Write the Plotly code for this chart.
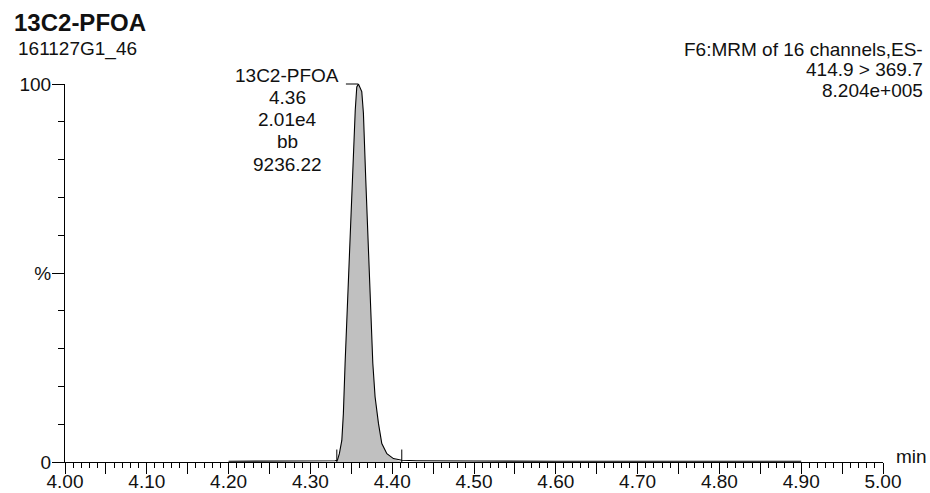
import plotly.graph_objects as go

# ---------------- data ----------------
compound = "13C2-PFOA"
sample_id = "161127G1_46"
function_info = ["F6:MRM of 16 channels,ES-", "414.9 > 369.7", "8.204e+005"]
peak_label = ["13C2-PFOA", "4.36", "2.01e4", "bb", "9236.22"]

time_min = [4.200, 4.250, 4.300, 4.320, 4.330, 4.3330, 4.3354, 4.3384, 4.3403,
            4.3424, 4.3445, 4.3470, 4.3490, 4.3510, 4.3530, 4.3548, 4.3567,
            4.3587, 4.3628, 4.3648, 4.3677, 4.3702, 4.3721, 4.3738, 4.3763,
            4.3791, 4.3832, 4.3873, 4.3935, 4.4015, 4.4118, 4.430, 4.450,
            4.500, 4.600, 4.700, 4.800, 4.900]
intensity_pct = [0.2, 0.2, 0.25, 0.3, 0.35, 0.45, 2.2, 5.7, 12.8,
                 26.0, 37.0, 52.0, 64.0, 75.0, 85.0, 93.0, 99.2,
                 100.0, 98.0, 92.3, 74.6, 61.3, 48.1, 39.4, 26.1,
                 17.2, 10.2, 4.9, 2.2, 0.9, 0.45, 0.35, 0.3,
                 0.25, 0.2, 0.2, 0.2, 0.2]
peak_start = 4.3323
peak_end = 4.4117
apex_time = 4.3587
apex_pct = 100.0

x_tickvals = [4.00, 4.05, 4.10, 4.15, 4.20, 4.25, 4.30, 4.35, 4.40, 4.45, 4.50,
              4.55, 4.60, 4.65, 4.70, 4.75, 4.80, 4.85, 4.90, 4.95, 5.00]
x_ticktext = ["4.00", "", "4.10", "", "4.20", "", "4.30", "", "4.40", "", "4.50",
              "", "4.60", "", "4.70", "", "4.80", "", "4.90", "", "5.00"]
y_tickvals = [0, 50, 100]
y_ticktext = ["0", "%", "100"]

# ---------------- layout geometry ----------------
W, H = 930, 493
L, R, T, B = 65, 47, 84, 31
PW, PH = W - L - R, H - T - B
FONT = "Liberation Sans, Arial, Helvetica, sans-serif"
INK = "#111111"
FS = 19


def px(xp):
    return (xp - L) / PW


def py(yp):
    return (H - B - yp) / PH


fig = go.Figure()

# shaded integrated area
fill_t = [t for t in time_min if peak_start <= t <= peak_end]
fill_y = [v for t, v in zip(time_min, intensity_pct) if peak_start <= t <= peak_end]
fig.add_trace(go.Scatter(x=[peak_start] + fill_t + [peak_end],
                         y=[0] + fill_y + [0],
                         mode="lines", fill="toself", fillcolor="#c0c0c0",
                         line=dict(width=0), hoverinfo="skip", showlegend=False))

# chromatogram trace
fig.add_trace(go.Scatter(x=time_min, y=intensity_pct, mode="lines",
                         line=dict(color="black", width=1.1),
                         showlegend=False))

# integration start / end markers
mk_x, mk_y = [], []
for t in (peak_start, peak_end):
    mk_x += [t, t, None]
    mk_y += [0, 3.3, None]
fig.add_trace(go.Scatter(x=mk_x, y=mk_y, mode="lines",
                         line=dict(color="black", width=1),
                         hoverinfo="skip", showlegend=False))

ann = []
# title and sample id
ann.append(dict(text="<b>" + compound + "</b>", x=px(12), y=py(22), xref="paper", yref="paper",
                xanchor="left", yanchor="middle", showarrow=False,
                font=dict(size=24, family=FONT, color=INK)))
ann.append(dict(text=sample_id, x=px(16), y=py(49), xref="paper", yref="paper",
                xanchor="left", yanchor="middle", showarrow=False,
                font=dict(size=FS, family=FONT, color=INK)))
# function info (top right)
for i, s in enumerate(function_info):
    ann.append(dict(text=s, x=px(925), y=py(49 + 20.5 * i), xref="paper", yref="paper",
                    xanchor="right", yanchor="middle", showarrow=False,
                    font=dict(size=FS, family=FONT, color=INK)))
# peak label block
for i, s in enumerate(peak_label):
    ann.append(dict(text=s, x=px(287), y=py(75 + 22.3 * i), xref="paper", yref="paper",
                    xanchor="center", yanchor="middle", showarrow=False,
                    font=dict(size=FS, family=FONT, color=INK)))
# connector from label to apex
ann.append(dict(text="", x=apex_time, y=apex_pct, xref="x", yref="y",
                showarrow=True, arrowhead=0, arrowwidth=1, arrowcolor="black",
                ax=-14, ay=0, standoff=0, startstandoff=0))
# "min" unit label
ann.append(dict(text="min", x=px(894), y=py(456), xref="paper", yref="paper",
                xanchor="left", yanchor="middle", showarrow=False,
                font=dict(size=FS, family=FONT, color=INK)))

fig.update_layout(
    width=W, height=H,
    margin=dict(l=L, r=R, t=T, b=B, pad=0, autoexpand=False),
    paper_bgcolor="white", plot_bgcolor="white",
    font=dict(family=FONT, size=FS, color=INK),
    annotations=ann,
    xaxis=dict(range=[4.0, 5.0], showgrid=False, zeroline=False, automargin=False,
               showline=True, linecolor="black", linewidth=1,
               tickmode="array", tickvals=x_tickvals, ticktext=x_ticktext,
               ticks="outside", ticklen=11, tickwidth=1, tickcolor="black",
               ticklabelstandoff=-9,
               tickfont=dict(size=FS, family=FONT, color=INK),
               minor=dict(dtick=0.01, tick0=4.0, ticks="outside", ticklen=5,
                          tickwidth=1, tickcolor="black", showgrid=False)),
    yaxis=dict(range=[0, 100], showgrid=False, zeroline=False, automargin=False,
               showline=True, linecolor="black", linewidth=1,
               tickmode="array", tickvals=y_tickvals, ticktext=y_ticktext,
               ticks="outside", ticklen=12, tickwidth=1, tickcolor="black",
               ticklabelstandoff=-3,
               tickfont=dict(size=FS, family=FONT, color=INK),
               minor=dict(dtick=10, tick0=0, ticks="outside", ticklen=6,
                          tickwidth=1, tickcolor="black", showgrid=False)),
)

fig.write_html("out.html")
